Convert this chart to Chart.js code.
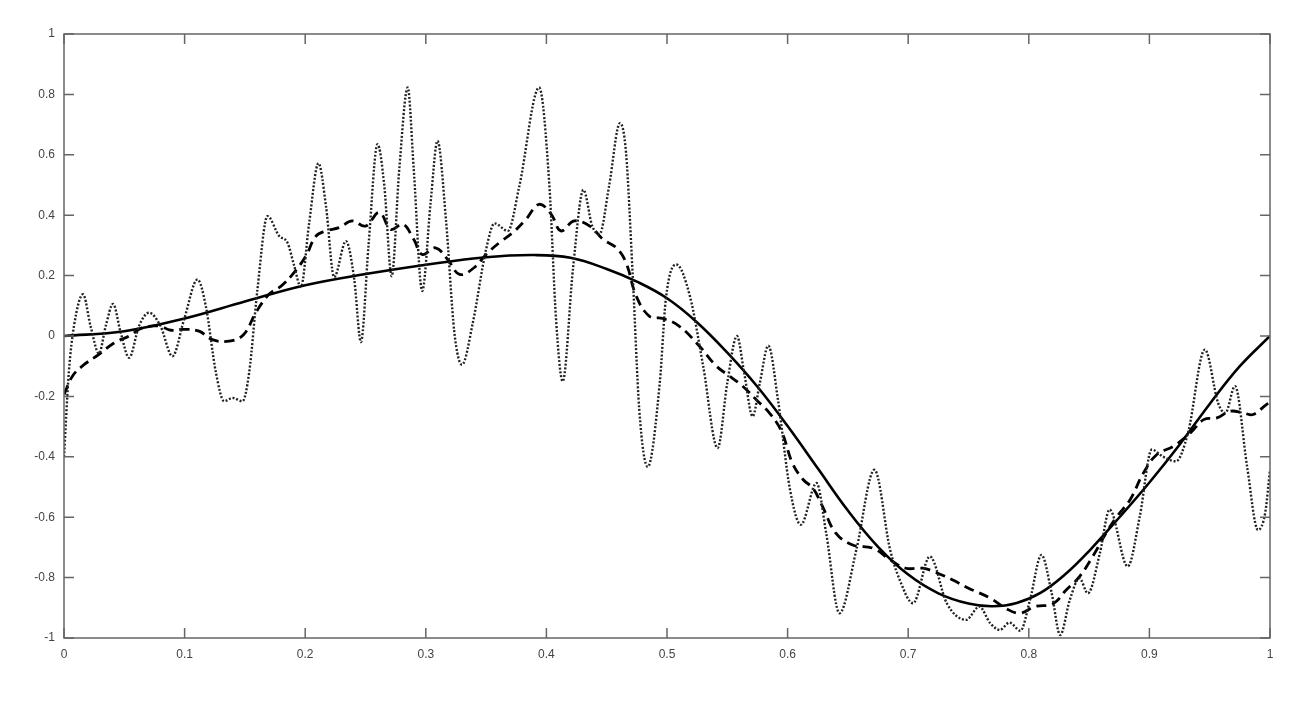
<!DOCTYPE html>
<html>
<head>
<meta charset="utf-8">
<script src="https://cdn.jsdelivr.net/npm/chart.js@4/dist/chart.umd.min.js"></script>
<style>
  html, body { margin: 0; padding: 0; background: #ffffff; }
  #wrap { width: 1300px; height: 701px; }
</style>
</head>
<body>
<div id="wrap"><canvas id="c" width="1300" height="701"></canvas></div>
<script>
// ---- Data ----
const xTicks = [0, 0.1, 0.2, 0.3, 0.4, 0.5, 0.6, 0.7, 0.8, 0.9, 1];
const yTicks = [-1, -0.8, -0.6, -0.4, -0.2, 0, 0.2, 0.4, 0.6, 0.8, 1];

const solidX = [0, 0.05, 0.1, 0.15, 0.2, 0.25, 0.3, 0.35, 0.39, 0.42, 0.45, 0.475, 0.5, 0.525, 0.55, 0.575, 0.6, 0.625, 0.65, 0.675, 0.7, 0.725, 0.75, 0.77, 0.79, 0.81, 0.83, 0.85, 0.875, 0.9, 0.925, 0.95, 0.975, 1.0];
const solidY = [0, 0.016, 0.058, 0.114, 0.168, 0.205, 0.236, 0.261, 0.268, 0.259, 0.222, 0.18, 0.125, 0.045, -0.055, -0.168, -0.298, -0.438, -0.578, -0.698, -0.790, -0.852, -0.886, -0.895, -0.884, -0.850, -0.790, -0.712, -0.601, -0.485, -0.36, -0.225, -0.10, 0];

const dashedX = [0, 0.007, 0.0166, 0.029, 0.0415, 0.054, 0.065, 0.0788, 0.0885, 0.0996, 0.112, 0.123, 0.137, 0.149, 0.159, 0.170, 0.180, 0.1895, 0.2006, 0.2089, 0.2172, 0.228, 0.239, 0.250, 0.2614, 0.271, 0.281, 0.290, 0.297, 0.308, 0.318, 0.328, 0.340, 0.350, 0.361, 0.372, 0.383, 0.394, 0.404, 0.412, 0.423, 0.436, 0.447, 0.458, 0.466, 0.4745, 0.4855, 0.4965, 0.510, 0.527, 0.541, 0.552, 0.563, 0.574, 0.585, 0.595, 0.604, 0.613, 0.621, 0.629, 0.640, 0.654, 0.671, 0.685, 0.698, 0.712, 0.723, 0.737, 0.750, 0.768, 0.781, 0.7925, 0.805, 0.820, 0.831, 0.842, 0.853, 0.864, 0.873, 0.884, 0.895, 0.906, 0.920, 0.934, 0.945, 0.956, 0.967, 0.978, 0.986, 0.997, 1.0];
const dashedY = [-0.194, -0.133, -0.095, -0.061, -0.023, 0.0, 0.027, 0.033, 0.019, 0.022, 0.016, -0.012, -0.017, 0.005, 0.077, 0.138, 0.165, 0.204, 0.265, 0.331, 0.348, 0.359, 0.381, 0.364, 0.409, 0.353, 0.370, 0.320, 0.270, 0.292, 0.254, 0.204, 0.226, 0.270, 0.309, 0.342, 0.386, 0.436, 0.403, 0.348, 0.381, 0.364, 0.320, 0.292, 0.243, 0.132, 0.065, 0.058, 0.033, -0.034, -0.100, -0.133, -0.167, -0.211, -0.255, -0.316, -0.421, -0.476, -0.504, -0.565, -0.653, -0.692, -0.703, -0.741, -0.769, -0.769, -0.783, -0.808, -0.835, -0.868, -0.902, -0.918, -0.896, -0.887, -0.841, -0.797, -0.730, -0.653, -0.598, -0.542, -0.454, -0.393, -0.365, -0.321, -0.277, -0.271, -0.249, -0.255, -0.260, -0.227, -0.22];

const dottedX = [0, 0.004, 0.0083, 0.0158, 0.022, 0.029, 0.0346, 0.0407, 0.047, 0.054, 0.0622, 0.0705, 0.080, 0.0899, 0.0996, 0.1107, 0.1176, 0.126, 0.1328, 0.1397, 0.148, 0.1535, 0.1604, 0.1687, 0.1784, 0.1853, 0.1909, 0.1964, 0.2033, 0.211, 0.2172, 0.224, 0.2338, 0.2407, 0.2462, 0.2525, 0.260, 0.2656, 0.2717, 0.278, 0.285, 0.290, 0.297, 0.304, 0.3097, 0.3167, 0.3237, 0.330, 0.339, 0.350, 0.357, 0.368, 0.3776, 0.394, 0.4025, 0.408, 0.4135, 0.422, 0.4307, 0.438, 0.444, 0.452, 0.461, 0.466, 0.4716, 0.477, 0.484, 0.494, 0.499, 0.5076, 0.519, 0.530, 0.542, 0.550, 0.558, 0.564, 0.571, 0.577, 0.584, 0.592, 0.602, 0.611, 0.624, 0.632, 0.643, 0.657, 0.672, 0.685, 0.693, 0.704, 0.718, 0.732, 0.748, 0.759, 0.768, 0.776, 0.784, 0.793, 0.801, 0.8105, 0.819, 0.826, 0.834, 0.842, 0.849, 0.859, 0.867, 0.882, 0.892, 0.902, 0.911, 0.922, 0.932, 0.946, 0.957, 0.963, 0.971, 0.981, 0.990, 0.996, 1.0];
const dottedY = [-0.40, -0.12, 0.033, 0.138, 0.033, -0.058, 0.033, 0.106, 0.011, -0.072, 0.033, 0.077, 0.033, -0.067, 0.055, 0.187, 0.099, -0.122, -0.216, -0.205, -0.216, -0.122, 0.154, 0.397, 0.331, 0.309, 0.232, 0.162, 0.375, 0.572, 0.431, 0.195, 0.314, 0.187, -0.02, 0.30, 0.635, 0.497, 0.198, 0.552, 0.823, 0.552, 0.149, 0.442, 0.646, 0.386, 0.011, -0.095, 0.044, 0.287, 0.373, 0.348, 0.497, 0.823, 0.497, 0.055, -0.150, 0.221, 0.484, 0.364, 0.337, 0.497, 0.705, 0.608, 0.198, -0.244, -0.433, -0.155, 0.121, 0.237, 0.132, -0.10, -0.371, -0.155, 0.0, -0.122, -0.266, -0.155, -0.032, -0.211, -0.509, -0.625, -0.487, -0.653, -0.918, -0.708, -0.443, -0.708, -0.808, -0.885, -0.730, -0.885, -0.94, -0.896, -0.951, -0.973, -0.949, -0.976, -0.874, -0.725, -0.852, -0.99, -0.874, -0.802, -0.852, -0.718, -0.575, -0.763, -0.598, -0.376, -0.399, -0.415, -0.321, -0.045, -0.222, -0.255, -0.166, -0.432, -0.642, -0.586, -0.443];

const toPoints = (xs, ys) => xs.map((x, i) => ({ x: x, y: ys[i] }));

const fmt = v => String(Number(Number(v).toFixed(1)));

const frameTicks = {
  id: 'frameTicks',
  afterDatasetsDraw(chart) {
    const { ctx, chartArea: a, scales } = chart;
    const L = 10;
    ctx.save();
    ctx.strokeStyle = '#666666';
    ctx.lineWidth = 1.5;
    ctx.beginPath();
    ctx.rect(a.left, a.top, a.right - a.left, a.bottom - a.top);
    ctx.stroke();
    ctx.beginPath();
    scales.x.ticks.forEach((t, i) => {
      const px = scales.x.getPixelForTick(i);
      ctx.moveTo(px, a.bottom); ctx.lineTo(px, a.bottom - L);
      ctx.moveTo(px, a.top); ctx.lineTo(px, a.top + L);
    });
    scales.y.ticks.forEach((t, i) => {
      const py = scales.y.getPixelForTick(i);
      ctx.moveTo(a.left, py); ctx.lineTo(a.left + L, py);
      ctx.moveTo(a.right, py); ctx.lineTo(a.right - L, py);
    });
    ctx.stroke();
    ctx.restore();
  }
};

new Chart(document.getElementById('c'), {
  type: 'line',
  data: {
    datasets: [
      {
        label: 'dotted',
        data: toPoints(dottedX, dottedY),
        borderColor: '#222222',
        borderWidth: 2.4,
        borderDash: [2, 1.8],
        pointRadius: 0,
        cubicInterpolationMode: 'monotone',
        fill: false
      },
      {
        label: 'dashed',
        data: toPoints(dashedX, dashedY),
        borderColor: '#000000',
        borderWidth: 2.8,
        borderDash: [10, 6],
        pointRadius: 0,
        tension: 0.4,
        fill: false
      },
      {
        label: 'solid',
        data: toPoints(solidX, solidY),
        borderColor: '#000000',
        borderWidth: 2.6,
        pointRadius: 0,
        tension: 0.4,
        fill: false
      }
    ]
  },
  options: {
    responsive: false,
    animation: false,
    events: [],
    layout: { padding: { left: 0, top: 34, right: 30, bottom: 0 } },
    plugins: { legend: { display: false }, tooltip: { enabled: false } },
    scales: {
      x: {
        type: 'linear',
        min: 0, max: 1,
        afterBuildTicks: s => { s.ticks = xTicks.map(v => ({ value: v })); },
        afterFit: s => { s.height = 63; },
        grid: { display: false, drawTicks: false },
        border: { display: false },
        ticks: {
          padding: 9,
          color: '#444444',
          font: { family: 'Liberation Sans, Arial, sans-serif', size: 12 },
          maxRotation: 0,
          callback: v => fmt(v)
        }
      },
      y: {
        type: 'linear',
        min: -1, max: 1,
        afterBuildTicks: s => { s.ticks = yTicks.map(v => ({ value: v })); },
        afterFit: s => { s.width = 64; },
        grid: { display: false, drawTicks: false },
        border: { display: false },
        ticks: {
          padding: 9,
          color: '#444444',
          font: { family: 'Liberation Sans, Arial, sans-serif', size: 12 },
          callback: v => fmt(v)
        }
      }
    }
  },
  plugins: [frameTicks]
});
</script>
</body>
</html>
